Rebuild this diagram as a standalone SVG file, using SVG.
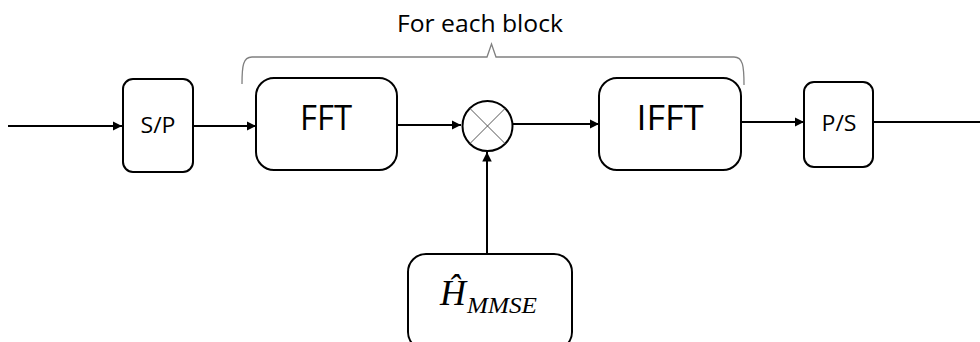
<svg xmlns="http://www.w3.org/2000/svg" width="980" height="342" viewBox="0 0 980 342">
<defs>
<marker id="arr" viewBox="0 0 9 9" refX="9" refY="4.5" markerWidth="4.75" markerHeight="4.75" markerUnits="strokeWidth" orient="auto">
<path d="M0,0 L9,4.5 L0,9 z" fill="#000"/>
</marker>
<style>
.box{fill:#fff;stroke:#000;stroke-width:2}
.lbl{font-family:"Open Sans","Liberation Sans",sans-serif;fill:#000;text-anchor:middle}
.conn{fill:none;stroke:#000;stroke-width:2}
.math{font-family:"Liberation Serif","DejaVu Serif",serif;font-style:italic;fill:#000}
</style>
</defs>
<rect width="980" height="342" fill="#fff"/>
<g id="bracket">
<path d="M242,84 C242,66 243,57 252,57 L487,57 L491.5,44 L496,57 L734,57 C743,57 744,66 744,85" fill="none" stroke="#808080" stroke-width="1.3"/>
<text class="lbl" x="480" y="32" font-size="23" textLength="166" lengthAdjust="spacingAndGlyphs">For each block</text>
</g>
<g id="connectors">
<line class="conn" x1="8" y1="126" x2="122" y2="126" marker-end="url(#arr)"/>
<line class="conn" x1="194" y1="126" x2="256" y2="126" marker-end="url(#arr)"/>
<line class="conn" x1="397" y1="125" x2="461" y2="125" marker-end="url(#arr)"/>
<line class="conn" x1="513" y1="124" x2="599" y2="124" marker-end="url(#arr)"/>
<line class="conn" x1="741" y1="122" x2="804" y2="122" marker-end="url(#arr)"/>
<line class="conn" x1="873" y1="122" x2="980" y2="122"/>
<line class="conn" x1="487" y1="254" x2="487" y2="152" marker-end="url(#arr)"/>
</g>
<g id="sp">
<rect class="box" x="123" y="79" width="70" height="93" rx="10"/>
<text class="lbl" x="158" y="133" font-size="22" textLength="35" lengthAdjust="spacingAndGlyphs">S/P</text>
</g>
<g id="fft">
<rect class="box" x="256" y="78" width="141" height="92" rx="18"/>
<text class="lbl" x="326" y="130" font-size="35" textLength="52" lengthAdjust="spacingAndGlyphs">FFT</text>
</g>
<g id="mult">
<circle cx="487.5" cy="126" r="25" fill="#fff" stroke="#000" stroke-width="2"/>
<path d="M470,108.5 L505,143.5 M505,108.5 L470,143.5" stroke="#555" stroke-width="1"/>
</g>
<g id="ifft">
<rect class="box" x="599" y="78" width="142" height="92" rx="18"/>
<text class="lbl" x="670" y="130" font-size="35" textLength="67" lengthAdjust="spacingAndGlyphs">IFFT</text>
</g>
<g id="ps">
<rect class="box" x="804" y="82" width="69" height="85" rx="10"/>
<text class="lbl" x="839" y="131" font-size="22" textLength="35" lengthAdjust="spacingAndGlyphs">P/S</text>
</g>
<g id="hmmse">
<rect class="box" x="408" y="254" width="164" height="96" rx="18"/>
<text class="math" x="440" y="305" font-size="36">Ĥ</text>
<text class="math" x="467" y="313" font-size="24" textLength="70" lengthAdjust="spacingAndGlyphs">MMSE</text>
</g>
</svg>
